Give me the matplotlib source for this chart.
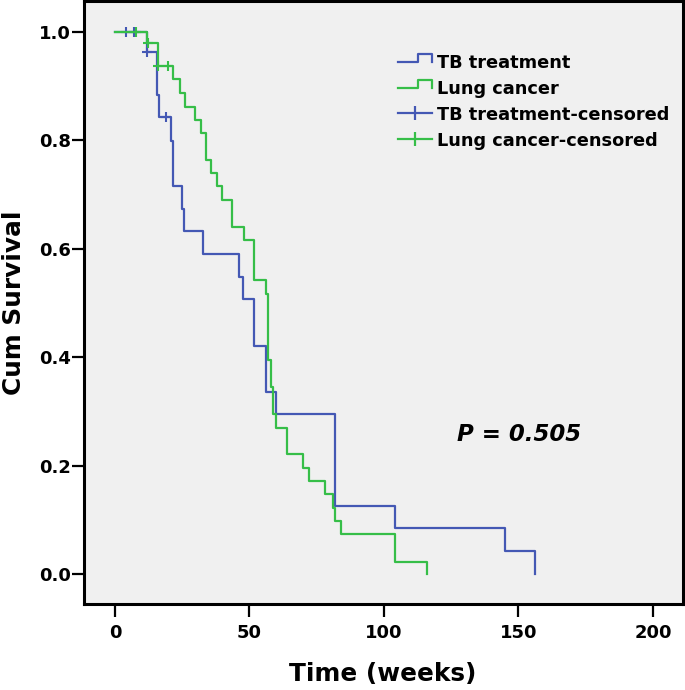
import matplotlib

matplotlib.use("Agg")
import matplotlib.pyplot as plt
from matplotlib.legend_handler import HandlerBase
from matplotlib.lines import Line2D

# Kaplan-Meier steps (time in weeks, survival after the step)
tb_time = [0, 11.8, 15.5, 16.4, 20.7, 21.7, 25.0, 25.6, 32.8, 46.0, 47.7, 51.8,
           56.0, 59.9, 82.0, 104.0, 145.0, 156.0]
tb_surv = [1.0, 0.962, 0.884, 0.843, 0.799, 0.716, 0.673, 0.632, 0.590, 0.547,
           0.507, 0.421, 0.336, 0.295, 0.125, 0.084, 0.042, 0.0]
tb_cens_time = [4.0, 7.2, 11.8, 18.9]
tb_cens_surv = [1.0, 1.0, 0.962, 0.843]

lc_time = [0, 11.8, 15.9, 21.7, 24.2, 26.0, 29.7, 31.9, 33.8, 35.9, 37.8, 39.8,
           43.7, 47.8, 51.8, 56.1, 56.9, 57.9, 58.8, 59.9, 64.0, 70.0, 72.0, 78.0,
           81.0, 82.0, 84.0, 104.0, 116.0]
lc_surv = [1.0, 0.980, 0.937, 0.913, 0.887, 0.862, 0.838, 0.813, 0.764, 0.739,
           0.715, 0.689, 0.640, 0.616, 0.542, 0.517, 0.395, 0.344, 0.295, 0.270,
           0.221, 0.196, 0.172, 0.147, 0.122, 0.098, 0.073, 0.023, 0.0]
lc_cens_time = [7.8, 12.4, 15.9, 19.8]
lc_cens_surv = [1.0, 0.980, 0.937, 0.937]

x_ticks = [0, 50, 100, 150, 200]
y_ticks = [0.0, 0.2, 0.4, 0.6, 0.8, 1.0]

BLUE = "#4458B4"
GREEN = "#36BE48"


class StepHandler(HandlerBase):
    """Legend key drawn as a little step, like SPSS does."""

    def create_artists(self, legend, orig_handle, xdescent, ydescent,
                       width, height, fontsize, trans):
        x0, y0 = -xdescent, -ydescent
        xm = x0 + 0.6 * width
        lo, hi = y0 + 0.45 * height, y0 + 1.1 * height
        line = Line2D([x0, xm, xm, x0 + width, x0 + width], [lo, lo, hi, hi, lo],
                      color=orig_handle.get_color(),
                      linewidth=orig_handle.get_linewidth())
        line.set_transform(trans)
        return [line]


fig = plt.figure(figsize=(6.85, 6.9), dpi=100)
ax = fig.add_axes([84 / 685, 1 - 604 / 690, 599 / 685, 603 / 690])
ax.set_facecolor("#F0F0F0")

ax.step(tb_time, tb_surv, where="post", color=BLUE, lw=1.6, zorder=2)
ax.step(lc_time, lc_surv, where="post", color=GREEN, lw=1.6, zorder=3)
ax.plot(tb_cens_time, tb_cens_surv, "+", color=BLUE, ms=7.5, mew=1.5, zorder=2)
ax.plot(lc_cens_time, lc_cens_surv, "+", color=GREEN, ms=7.5, mew=1.5, zorder=3)

ax.set_xlim(-11.5, 211.2)
ax.set_ylim(-0.0554, 1.057)
ax.set_xticks(x_ticks)
ax.set_yticks(y_ticks)
ax.set_yticklabels([f"{v:.1f}" for v in y_ticks])
ax.tick_params(axis="both", direction="out", width=1.6, labelsize=13,
               colors="black")
ax.tick_params(axis="x", length=9.5, pad=5)
ax.tick_params(axis="y", length=8.5, pad=1)
for lab in ax.get_xticklabels() + ax.get_yticklabels():
    lab.set_fontweight("bold")
for sp in ax.spines.values():
    sp.set_linewidth(2.2)
    sp.set_color("black")

ax.set_xlabel("Time (weeks)", fontsize=17.8, fontweight="bold")
ax.set_ylabel("Cum Survival", fontsize=17.8, fontweight="bold")
ax.xaxis.set_label_coords(0.498, -0.097)
ax.yaxis.set_label_coords(-0.097, 0.499)

ax.text(150.2, 0.258, "P = 0.505", fontsize=16.5, fontweight="bold",
        fontstyle="italic", ha="center", va="center")

handles = [
    Line2D([], [], color=BLUE, lw=1.6),
    Line2D([], [], color=GREEN, lw=1.6),
    Line2D([], [], color=BLUE, lw=1.6, marker="|", ms=10, mew=1.6),
    Line2D([], [], color=GREEN, lw=1.6, marker="|", ms=10, mew=1.6),
]
labels = ["TB treatment", "Lung cancer", "TB treatment-censored",
          "Lung cancer-censored"]
leg = ax.legend(handles, labels, loc="upper left", bbox_to_anchor=(0.524, 0.912),
                frameon=False, borderpad=0, borderaxespad=0, handlelength=1.9,
                handletextpad=0.3, labelspacing=0.44,
                prop={"size": 12.8, "weight": "bold"},
                handler_map={handles[0]: StepHandler(), handles[1]: StepHandler()})

fig.savefig("out.png", dpi=100, facecolor="white")
